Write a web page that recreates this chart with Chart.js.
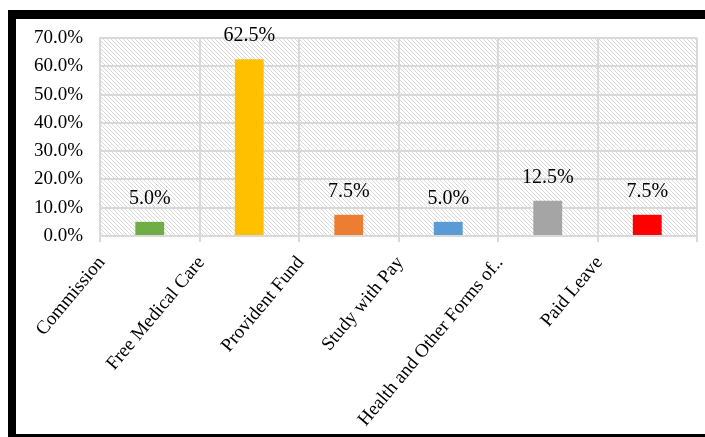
<!DOCTYPE html>
<html>
<head>
<meta charset="utf-8">
<script src="https://cdn.jsdelivr.net/npm/chart.js@4"></script>
<style>
  html, body { margin: 0; padding: 0; background: #fff; }
  #wrap { position: relative; width: 705px; height: 437px; overflow: hidden; }
  #frame {
    position: absolute; left: 8px; top: 10px; width: 720px; height: 427px;
    box-sizing: border-box; border-top: 9px solid #000; border-left: 8px solid #000;
    border-bottom: 3px solid #000; pointer-events: none;
  }
  canvas { position: absolute; left: 0; top: 0; }
</style>
</head>
<body>
<div id="wrap">
  <canvas id="barChart" width="705" height="437"></canvas>
  <div id="frame"></div>
</div>
<script>
const categories = ["Commission", "Free Medical Care", "Provident Fund", "Study with Pay", "Health and Other Forms of..", "Paid Leave"];
const values = [5.0, 62.5, 7.5, 5.0, 12.5, 7.5];
const barColors = ["#70AD47", "#FFC000", "#ED7D31", "#5B9BD5", "#A5A5A5", "#FF0000"];
const yTicks = [0, 10, 20, 30, 40, 50, 60, 70];

const serif = "'Liberation Serif', 'Times New Roman', serif";

// diagonal hatch for plot background
const pc = document.createElement("canvas");
pc.width = 4; pc.height = 4;
const pctx = pc.getContext("2d");
pctx.fillStyle = "#fff";
pctx.fillRect(0, 0, 4, 4);
pctx.strokeStyle = "#d8d8d8";
pctx.lineWidth = 1;
pctx.beginPath();
pctx.moveTo(0, 0); pctx.lineTo(4, 4);
pctx.moveTo(-1, 3); pctx.lineTo(1, 5);
pctx.moveTo(3, -1); pctx.lineTo(5, 1);
pctx.stroke();

const hatch = {
  id: "hatch",
  beforeDraw(chart) {
    const a = chart.chartArea, ctx = chart.ctx;
    ctx.save();
    ctx.fillStyle = ctx.createPattern(pc, "repeat");
    ctx.fillRect(a.left, a.top, a.right - a.left, a.bottom - a.top);
    ctx.restore();
  }
};

const valueLabels = {
  id: "valueLabels",
  afterDatasetsDraw(chart) {
    const ctx = chart.ctx;
    const meta = chart.getDatasetMeta(0);
    ctx.save();
    ctx.font = "20px " + serif;
    ctx.fillStyle = "#000";
    ctx.textAlign = "center";
    ctx.textBaseline = "bottom";
    meta.data.forEach((bar, i) => {
      ctx.fillText(values[i].toFixed(1) + "%", bar.x, bar.y - 13);
    });
    ctx.restore();
  }
};

new Chart(document.getElementById("barChart"), {
  type: "bar",
  data: {
    labels: categories,
    datasets: [{
      label: "Benefits",
      data: values,
      backgroundColor: barColors,
      barPercentage: 0.29,
      categoryPercentage: 1
    }]
  },
  options: {
    responsive: false,
    animation: false,
    layout: { padding: { left: 0, top: 38, right: 8, bottom: 0 } },
    plugins: { legend: { display: false }, tooltip: { enabled: false } },
    scales: {
      x: {
        grid: { color: "#d9d9d9", lineWidth: 2, tickLength: 6 },
        border: { color: "#d9d9d9", width: 2 },
        ticks: {
          color: "#000",
          font: { family: serif, size: 19 },
          minRotation: 50,
          maxRotation: 50,
          autoSkip: false,
          labelOffset: -48,
          padding: 10
        },
        afterFit(scale) { scale.height = 201; }
      },
      y: {
        min: 0,
        max: 70,
        afterBuildTicks(scale) { scale.ticks = yTicks.map(v => ({ value: v })); },
        grid: { color: "#d9d9d9", lineWidth: 2, drawTicks: false },
        border: { color: "#d9d9d9", width: 2 },
        ticks: {
          color: "#000",
          font: { family: serif, size: 19 },
          padding: 17,
          callback: v => v.toFixed(1) + "%"
        },
        afterFit(scale) { scale.width = 100; }
      }
    }
  },
  plugins: [hatch, valueLabels]
});
</script>
</body>
</html>
